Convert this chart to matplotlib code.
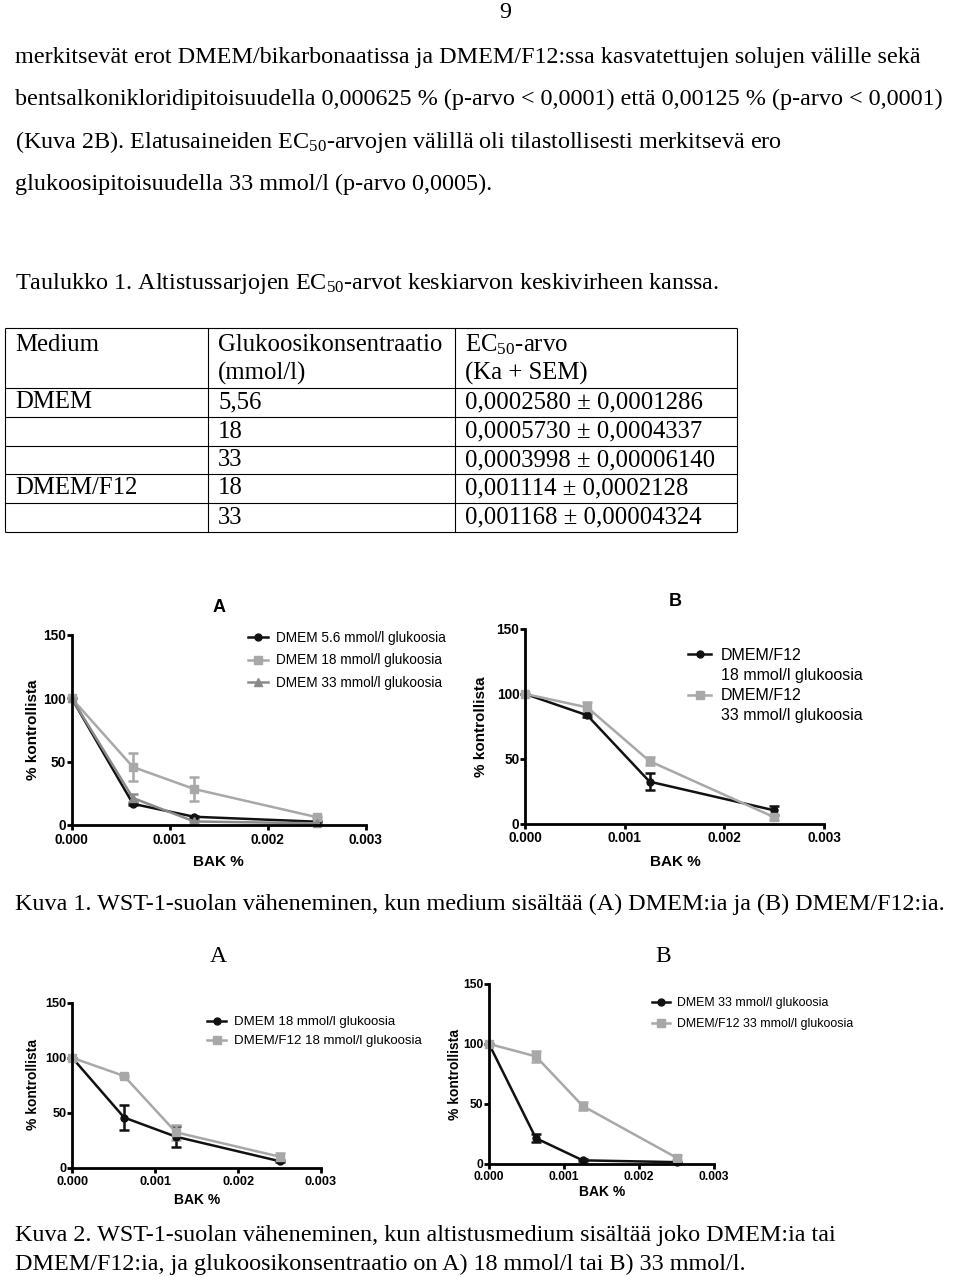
import matplotlib
matplotlib.use("Agg")
import matplotlib.pyplot as plt
import matplotlib.transforms as mtransforms
from matplotlib.lines import Line2D

W, H = 960, 1277

plt.rcParams['font.family'] = ['Liberation Sans', 'DejaVu Sans']
plt.rcParams['mathtext.default'] = 'regular'
SERIF = ['Liberation Serif', 'DejaVu Serif']

# BAK-pitoisuudet (%)
bak = [0.0, 0.000625, 0.00125, 0.0025]

# WST-1, % kontrollista (keskiarvo ja SEM)
dmem_56 = [100, 16.7, 6.5, 2.6]
dmem_56_err = [0, 1.0, 1.0, 0.5]
dmem_18 = [100, 45.8, 28.4, 6.2]
dmem_18_err = [0, 11.2, 9.3, 1.0]
dmem_33 = [100, 21.3, 2.8, 1.3]
dmem_33_err = [0, 3.4, 0.8, 0.3]
f12_18 = [100, 83.5, 32.4, 10.3]
f12_18_err = [0, 1.0, 6.8, 3.4]
f12_33 = [100, 89.6, 48.2, 5.0]
f12_33_err = [0, 4.5, 3.2, 2.0]

xticks = [0.0, 0.001, 0.002, 0.003]
xticklabels = ['0.000', '0.001', '0.002', '0.003']
yticks = [0, 50, 100, 150]

# Taulukko 1
t_head = [['Medium', ''], ['Glukoosikonsentraatio', '(mmol/l)'], ['EC$_{50}$-arvo', '(Ka + SEM)']]
t_medium = ['DMEM', '', '', 'DMEM/F12', '']
t_gluc = ['5,56', '18', '33', '18', '33']
t_ec50 = ['0,0002580 ± 0,0001286', '0,0005730 ± 0,0004337', '0,0003998 ± 0,00006140',
          '0,001114 ± 0,0002128', '0,001168 ± 0,00004324']

body = [
    'merkitsevät erot DMEM/bikarbonaatissa ja DMEM/F12:ssa kasvatettujen solujen välille sekä',
    'bentsalkonikloridipitoisuudella 0,000625 % (p-arvo < 0,0001) että 0,00125 % (p-arvo < 0,0001)',
    '(Kuva 2B). Elatusaineiden EC$_{50}$-arvojen välillä oli tilastollisesti merkitsevä ero',
    'glukoosipitoisuudella 33 mmol/l (p-arvo 0,0005).',
]
taulukko = 'Taulukko 1. Altistussarjojen EC$_{50}$-arvot keskiarvon keskivirheen kanssa.'
kuva1 = 'Kuva 1. WST-1-suolan väheneminen, kun medium sisältää (A) DMEM:ia ja (B) DMEM/F12:ia.'
kuva2 = ['Kuva 2. WST-1-suolan väheneminen, kun altistusmedium sisältää joko DMEM:ia tai',
         'DMEM/F12:ia, ja glukoosikonsentraatio on A) 18 mmol/l tai B) 33 mmol/l.']

BLACK = '#111111'
LGRAY = '#a8a8a8'
MGRAY = '#8a8a8a'

fig = plt.figure(figsize=(W / 100, H / 100), dpi=100)
fig.patch.set_facecolor('white')
pix = mtransforms.Affine2D().scale(1 / W, -1 / H).translate(0, 1) + fig.transFigure


def txt(x, y, s, **kw):
    kw.setdefault('va', 'center')
    return fig.text(x, y, s, transform=pix, **kw)


# sivun teksti
FS = 17.4
TFS = 17.8
txt(505, 13, '9', family=SERIF, fontsize=FS, ha='center')
for i, line in enumerate(body):
    txt(15, 57 + i * 42.5, line, family=SERIF, fontsize=FS)
txt(15, 283, taulukko, family=SERIF, fontsize=FS)

# taulukko
ax0 = fig.add_axes([0, 0, 1, 1])
ax0.set_xlim(0, W)
ax0.set_ylim(H, 0)
ax0.axis('off')
cols = [5, 208, 455, 737]
rows = [328, 388, 417, 446, 474, 503, 532]
ax0.hlines(rows, cols[0], cols[-1], color='black', lw=0.8)
ax0.vlines(cols, rows[0], rows[-1], color='black', lw=0.8)
for c, (l1, l2) in enumerate(t_head):
    txt(cols[c] + 10, 345, l1, family=SERIF, fontsize=TFS)
    txt(cols[c] + 10, 373, l2, family=SERIF, fontsize=TFS)
for r in range(len(t_gluc)):
    y = (rows[r + 1] + rows[r + 2]) / 2
    for c, val in enumerate([t_medium[r], t_gluc[r], t_ec50[r]]):
        txt(cols[c] + 10, y, val, family=SERIF, fontsize=TFS)


def panel(rect, series, tick_fs):
    l, t, r, b = rect
    ax = fig.add_axes([l / W, 1 - b / H, (r - l) / W, (b - t) / H])
    ax.patch.set_alpha(0)
    for y, e, c, m, ms in series:
        cont = ax.errorbar(bak, y, yerr=e, color=c, marker=m, ms=ms, lw=1.8,
                           elinewidth=1.8, capsize=3.5, capthick=1.8)
        for art in cont.get_children():
            art.set_clip_on(False)
    ax.set_xlim(0, 0.003)
    ax.set_ylim(0, 150)
    ax.set_xticks(xticks, xticklabels)
    ax.set_yticks(yticks)
    for s in ('top', 'right'):
        ax.spines[s].set_visible(False)
    for s in ('left', 'bottom'):
        ax.spines[s].set_linewidth(2)
    ax.tick_params(length=3.6, width=2, labelsize=tick_fs, direction='out')
    ax.tick_params(axis='y', pad=0.5)
    ax.tick_params(axis='x', pad=2)
    for lab in ax.get_xticklabels() + ax.get_yticklabels():
        lab.set_fontweight('bold')
    return ax


def legend(ax, styles, labels, x, y, fs, lspace):
    hs = []
    for st in styles:
        if st is None:
            hs.append(Line2D([], [], color='none'))
        else:
            c, m, ms = st
            hs.append(Line2D([], [], color=c, marker=m, ms=ms, lw=1.8))
    ax.legend(hs, labels, loc='upper left', bbox_to_anchor=(x, y), bbox_transform=pix,
              frameon=False, borderpad=0, borderaxespad=0, handlelength=1.45,
              handletextpad=0.6, labelspacing=lspace, fontsize=fs)


# Kuva 1 A
ax = panel((71.7, 635, 365.7, 825),
           [(dmem_56, dmem_56_err, BLACK, 'o', 5),
            (dmem_18, dmem_18_err, LGRAY, 's', 5.5),
            (dmem_33, dmem_33_err, MGRAY, '^', 5.5)], 9.8)
legend(ax, [(BLACK, 'o', 5), (LGRAY, 's', 5.5), (MGRAY, '^', 5.5)],
       ['DMEM 5.6 mmol/l glukoosia', 'DMEM 18 mmol/l glukoosia', 'DMEM 33 mmol/l glukoosia'],
       248, 631, 9.8, 0.62)
txt(219, 607, 'A', fontsize=13, fontweight='bold', ha='center')
txt(33, 730, '% kontrollista', fontsize=11, fontweight='bold', ha='center', rotation=90)
txt(218, 862, 'BAK %', fontsize=11, fontweight='bold', ha='center')

# Kuva 1 B
ax = panel((525, 629, 824, 823.7),
           [(f12_18, f12_18_err, BLACK, 'o', 5),
            (f12_33, f12_33_err, LGRAY, 's', 5.5)], 9.8)
legend(ax, [(BLACK, 'o', 5), None, (LGRAY, 's', 5.5), None],
       ['DMEM/F12', '18 mmol/l glukoosia', 'DMEM/F12', '33 mmol/l glukoosia'],
       688, 648, 11.5, 0.32)
txt(675, 602, 'B', fontsize=13, fontweight='bold', ha='center')
txt(481, 727, '% kontrollista', fontsize=11, fontweight='bold', ha='center', rotation=90)
txt(675, 862, 'BAK %', fontsize=11, fontweight='bold', ha='center')

txt(15, 904, kuva1, family=SERIF, fontsize=FS)

# Kuva 2 A
ax = panel((72.3, 1002.7, 321, 1168),
           [(dmem_18, dmem_18_err, BLACK, 'o', 5),
            (f12_18, f12_18_err, LGRAY, 's', 5.5)], 9.2)
legend(ax, [(BLACK, 'o', 5), (LGRAY, 's', 5.5)],
       ['DMEM 18 mmol/l glukoosia', 'DMEM/F12 18 mmol/l glukoosia'],
       207, 1016, 9.5, 0.53)
txt(218, 957, 'A', family=SERIF, fontsize=17, ha='center')
txt(33, 1085, '% kontrollista', fontsize=10, fontweight='bold', ha='center', rotation=90)
txt(197, 1200, 'BAK %', fontsize=10, fontweight='bold', ha='center')

# Kuva 2 B
ax = panel((489, 984, 714, 1163.7),
           [(dmem_33, dmem_33_err, BLACK, 'o', 5),
            (f12_33, f12_33_err, LGRAY, 's', 5.5)], 8.7)
legend(ax, [(BLACK, 'o', 5), (LGRAY, 's', 5.5)],
       ['DMEM 33 mmol/l glukoosia', 'DMEM/F12 33 mmol/l glukoosia'],
       652, 997, 8.9, 0.76)
txt(663, 957, 'B', family=SERIF, fontsize=17, ha='center')
txt(455, 1075, '% kontrollista', fontsize=10, fontweight='bold', ha='center', rotation=90)
txt(602, 1192, 'BAK %', fontsize=10, fontweight='bold', ha='center')

txt(15, 1235, kuva2[0], family=SERIF, fontsize=FS)
txt(15, 1264, kuva2[1], family=SERIF, fontsize=FS)

fig.savefig('out.png', dpi=100)
